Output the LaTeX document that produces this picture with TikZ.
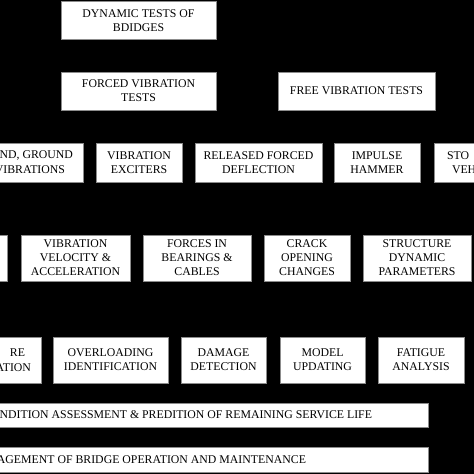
\documentclass[tikz,border=0pt]{standalone}
\usepackage{fontspec}
\setmainfont{Liberation Serif}
\begin{document}
\begin{tikzpicture}[x=1pt,y=-1pt,
  box/.style={draw=black!45, line width=0.6pt, fill=white, inner sep=0pt, outer sep=0pt,
    align=center, text=black, font=\fontsize{11.8}{14}\selectfont},
  txt/.style={inner sep=0pt, outer sep=0pt, text=black, font=\fontsize{11.8}{14}\selectfont}]
\useasboundingbox (0,0) rectangle (474,474);
\fill[black] (0,0) rectangle (474,474);
\clip (0,0) rectangle (474,474);
% top levels
\node[box, minimum width=155pt, minimum height=38pt] (b1) at (138.5,20.5) {DYNAMIC TESTS OF\\BDIDGES};
\node[box, minimum width=155pt, minimum height=38pt] (b2) at (138.5,91) {FORCED VIBRATION\\TESTS};
\node[box, minimum width=157pt, minimum height=38pt] (b3) at (356.5,91) {FREE VIBRATION TESTS};
% row 3
\node[box, minimum width=143pt, minimum height=39pt] (r3a) at (11.5,162.5) {};
\node[txt, anchor=east] (r3a1) at (73,155.5) {ND, GROUND};
\node[txt, anchor=east] (r3a2) at (65,169.5) {VIBRATIONS};
\node[box, minimum width=86pt, minimum height=39pt] (r3b) at (139,162.5) {VIBRATION\\EXCITERS};
\node[box, minimum width=127pt, minimum height=39pt] (r3c) at (258.5,162.5) {RELEASED FORCED\\DEFLECTION};
\node[box, minimum width=86pt, minimum height=39pt] (r3d) at (377,162.5) {IMPULSE\\HAMMER};
\node[box, minimum width=86pt, minimum height=39pt] (r3e) at (477,162.5) {};
\node[txt, anchor=west] (r3e1) at (447,155.5) {STO};
\node[txt, anchor=west] (r3e2) at (452,169.5) {VEH};
% row 4
\node[box, minimum width=87pt, minimum height=46pt] (r4a) at (-36.5,258) {};
\node[box, minimum width=109pt, minimum height=46pt] (r4b) at (75.5,258) {VIBRATION\\VELOCITY \&\\ACCELERATION};
\node[box, minimum width=108pt, minimum height=46pt] (r4c) at (197,258) {FORCES IN\\BEARINGS \&\\CABLES};
\node[box, minimum width=86pt, minimum height=46pt] (r4d) at (307,258) {CRACK\\OPENING\\CHANGES};
\node[box, minimum width=108pt, minimum height=46pt] (r4e) at (417,258) {STRUCTURE\\DYNAMIC\\PARAMETERS};
% row 5
\node[box, minimum width=100pt, minimum height=46pt] (r5a) at (-9,360) {};
\node[txt, anchor=east] (r5a1) at (25,353) {RE};
\node[txt, anchor=east] (r5a2) at (31,367.5) {ATION};
\node[box, minimum width=115pt, minimum height=46pt] (r5b) at (110.5,360) {OVERLOADING\\IDENTIFICATION};
\node[box, minimum width=85pt, minimum height=46pt] (r5c) at (223.5,360) {DAMAGE\\DETECTION};
\node[box, minimum width=85pt, minimum height=46pt] (r5d) at (322.5,360) {MODEL\\UPDATING};
\node[box, minimum width=86pt, minimum height=46pt] (r5e) at (421,360) {FATIGUE\\ANALYSIS};
% rows 6, 7
\node[box, minimum width=528pt, minimum height=24pt] (r6) at (164,415) {};
\node[txt, anchor=east] (r6t) at (372,415) {NDITION ASSESSMENT \& PREDITION OF REMAINING SERVICE LIFE};
\node[box, minimum width=528pt, minimum height=25pt] (r7) at (164,459.5) {};
\node[txt, anchor=east] (r7t) at (306,459.5) {AGEMENT OF BRIDGE OPERATION AND MAINTENANCE};
\end{tikzpicture}
\end{document}
